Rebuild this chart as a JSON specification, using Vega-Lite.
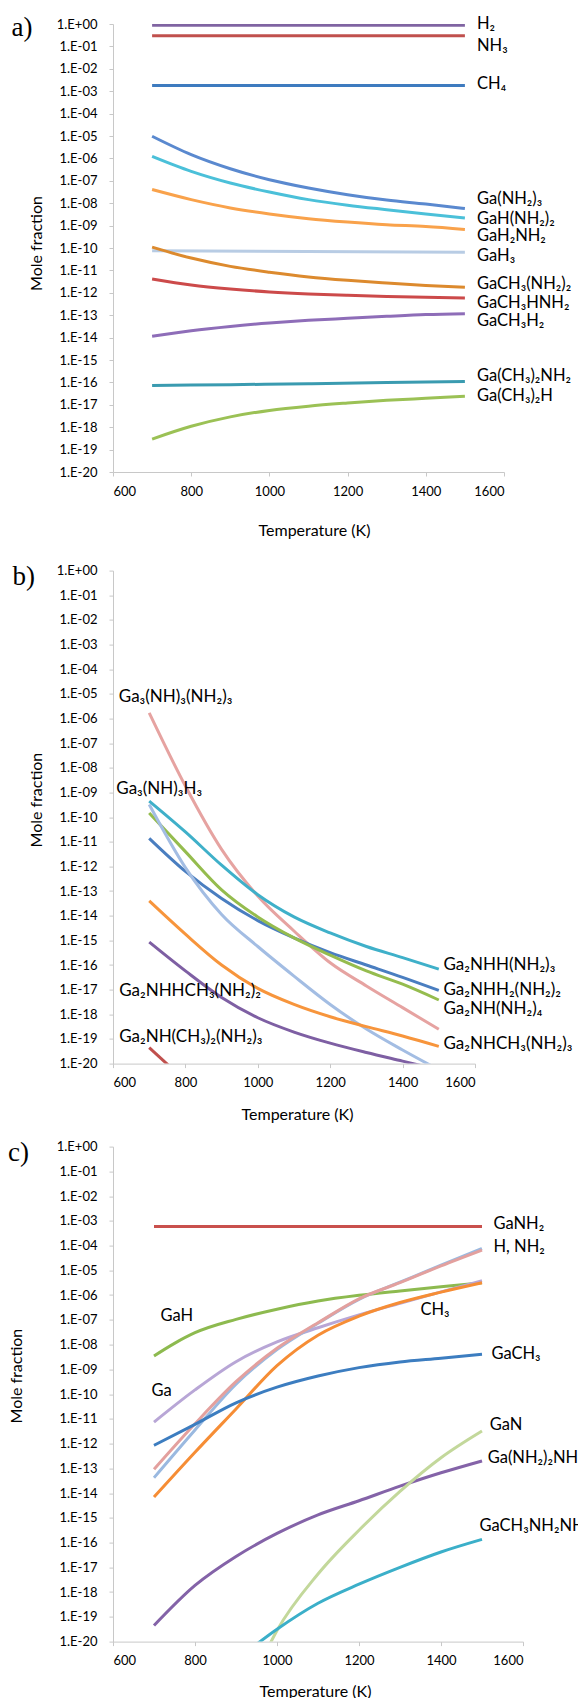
{
"$schema":"https://vega.github.io/schema/vega-lite/v6.json",
"background":"white",
"padding":{"left":8,"top":14,"right":0,"bottom":0},
"config":{"font":"Lato","view":{"stroke":null},
"axis":{"labelFont":"Lato","labelFontSize":13,"labelColor":"#000","titleFont":"Lato","titleFontSize":16,"titleFontWeight":"normal","titleColor":"#000","domainColor":"#C8C8C8","tickColor":"#C8C8C8","grid":false,"tickSize":4},
"title":{"font":"Liberation Serif","fontSize":27,"fontWeight":"normal","anchor":"start","frame":"bounds","color":"#000"},
"text":{"font":"Lato","fontSize":16.5,"align":"left","baseline":"middle","color":"#000"},
"line":{"strokeWidth":3,"interpolate":"monotone"}},
"datasets":{
"a":[
{"s":"H2","T":700,"v":0.871},{"s":"H2","T":1500,"v":0.871},
{"s":"NH3","T":700,"v":0.302},{"s":"NH3","T":1500,"v":0.302},
{"s":"CH4","T":700,"v":1.778e-3},{"s":"CH4","T":1500,"v":1.778e-3},
{"s":"Ga(NH2)3","T":700,"v":9.77e-6},{"s":"Ga(NH2)3","T":800,"v":1.479e-6},{"s":"Ga(NH2)3","T":900,"v":3.467e-7},{"s":"Ga(NH2)3","T":1000,"v":1.122e-7},{"s":"Ga(NH2)3","T":1100,"v":4.786e-8},{"s":"Ga(NH2)3","T":1200,"v":2.399e-8},{"s":"Ga(NH2)3","T":1300,"v":1.380e-8},{"s":"Ga(NH2)3","T":1400,"v":9.12e-9},{"s":"Ga(NH2)3","T":1500,"v":5.754e-9},
{"s":"GaH(NH2)2","T":700,"v":1.230e-6},{"s":"GaH(NH2)2","T":800,"v":2.630e-7},{"s":"GaH(NH2)2","T":900,"v":7.943e-8},{"s":"GaH(NH2)2","T":1000,"v":3.162e-8},{"s":"GaH(NH2)2","T":1100,"v":1.445e-8},{"s":"GaH(NH2)2","T":1200,"v":8.128e-9},{"s":"GaH(NH2)2","T":1300,"v":5.129e-9},{"s":"GaH(NH2)2","T":1400,"v":3.311e-9},{"s":"GaH(NH2)2","T":1500,"v":2.188e-9},
{"s":"GaH2NH2","T":700,"v":4.074e-8},{"s":"GaH2NH2","T":800,"v":1.445e-8},{"s":"GaH2NH2","T":900,"v":6.166e-9},{"s":"GaH2NH2","T":1000,"v":3.311e-9},{"s":"GaH2NH2","T":1100,"v":2.042e-9},{"s":"GaH2NH2","T":1200,"v":1.445e-9},{"s":"GaH2NH2","T":1300,"v":1.096e-9},{"s":"GaH2NH2","T":1400,"v":9.12e-10},{"s":"GaH2NH2","T":1500,"v":6.761e-10},
{"s":"GaH3","T":700,"v":7.586e-11},{"s":"GaH3","T":1500,"v":6.457e-11},
{"s":"GaCH3(NH2)2","T":700,"v":1.096e-10},{"s":"GaCH3(NH2)2","T":800,"v":3.548e-11},{"s":"GaCH3(NH2)2","T":900,"v":1.514e-11},{"s":"GaCH3(NH2)2","T":1000,"v":8.318e-12},{"s":"GaCH3(NH2)2","T":1100,"v":5.129e-12},{"s":"GaCH3(NH2)2","T":1200,"v":3.631e-12},{"s":"GaCH3(NH2)2","T":1300,"v":2.754e-12},{"s":"GaCH3(NH2)2","T":1400,"v":2.138e-12},{"s":"GaCH3(NH2)2","T":1500,"v":1.778e-12},
{"s":"GaCH3HNH2","T":700,"v":4.169e-12},{"s":"GaCH3HNH2","T":800,"v":2.239e-12},{"s":"GaCH3HNH2","T":900,"v":1.479e-12},{"s":"GaCH3HNH2","T":1000,"v":1.096e-12},{"s":"GaCH3HNH2","T":1100,"v":8.913e-13},{"s":"GaCH3HNH2","T":1200,"v":7.762e-13},{"s":"GaCH3HNH2","T":1300,"v":6.918e-13},{"s":"GaCH3HNH2","T":1400,"v":6.310e-13},{"s":"GaCH3HNH2","T":1500,"v":5.888e-13},
{"s":"GaCH3H2","T":700,"v":1.148e-14},{"s":"GaCH3H2","T":800,"v":2.042e-14},{"s":"GaCH3H2","T":900,"v":3.162e-14},{"s":"GaCH3H2","T":1000,"v":4.467e-14},{"s":"GaCH3H2","T":1100,"v":5.888e-14},{"s":"GaCH3H2","T":1200,"v":7.244e-14},{"s":"GaCH3H2","T":1300,"v":8.913e-14},{"s":"GaCH3H2","T":1400,"v":1.072e-13},{"s":"GaCH3H2","T":1500,"v":1.175e-13},
{"s":"Ga(CH3)2NH2","T":700,"v":7.244e-17},{"s":"Ga(CH3)2NH2","T":900,"v":7.943e-17},{"s":"Ga(CH3)2NH2","T":1100,"v":8.710e-17},{"s":"Ga(CH3)2NH2","T":1300,"v":9.772e-17},{"s":"Ga(CH3)2NH2","T":1500,"v":1.096e-16},
{"s":"Ga(CH3)2H","T":700,"v":2.951e-19},{"s":"Ga(CH3)2H","T":800,"v":1.096e-18},{"s":"Ga(CH3)2H","T":900,"v":2.884e-18},{"s":"Ga(CH3)2H","T":1000,"v":5.623e-18},{"s":"Ga(CH3)2H","T":1100,"v":8.710e-18},{"s":"Ga(CH3)2H","T":1200,"v":1.202e-17},{"s":"Ga(CH3)2H","T":1300,"v":1.585e-17},{"s":"Ga(CH3)2H","T":1400,"v":1.950e-17},{"s":"Ga(CH3)2H","T":1500,"v":2.399e-17}
],
"aLab":[
{"t":"H₂","T":1531,"v":1},{"t":"NH₃","T":1531,"v":0.1096},{"t":"CH₄","T":1531,"v":2.089e-3},
{"t":"Ga(NH₂)₃","T":1531,"v":1.549e-8},{"t":"GaH(NH₂)₂","T":1531,"v":2.042e-9},{"t":"GaH₂NH₂","T":1531,"v":3.548e-10},
{"t":"GaH₃","T":1531,"v":4.266e-11},{"t":"GaCH₃(NH₂)₂","T":1531,"v":2.455e-12},{"t":"GaCH₃HNH₂","T":1531,"v":3.467e-13},
{"t":"GaCH₃H₂","T":1531,"v":5.370e-14},{"t":"Ga(CH₃)₂NH₂","T":1531,"v":1.862e-16},{"t":"Ga(CH₃)₂H","T":1531,"v":2.570e-17}
],
"b":[
{"s":"Ga3(NH)3(NH2)3","T":700,"v":1.698e-6},{"s":"Ga3(NH)3(NH2)3","T":800,"v":1.820e-9},{"s":"Ga3(NH)3(NH2)3","T":900,"v":4.898e-12},{"s":"Ga3(NH)3(NH2)3","T":1000,"v":6.310e-14},{"s":"Ga3(NH)3(NH2)3","T":1100,"v":2.399e-15},{"s":"Ga3(NH)3(NH2)3","T":1200,"v":1.230e-16},{"s":"Ga3(NH)3(NH2)3","T":1300,"v":1.413e-17},{"s":"Ga3(NH)3(NH2)3","T":1400,"v":1.862e-18},{"s":"Ga3(NH)3(NH2)3","T":1500,"v":2.455e-19},
{"s":"Ga2NHH(NH2)3","T":700,"v":4.467e-10},{"s":"Ga2NHH(NH2)3","T":800,"v":2.512e-11},{"s":"Ga2NHH(NH2)3","T":900,"v":1.122e-12},{"s":"Ga2NHH(NH2)3","T":1000,"v":7.079e-14},{"s":"Ga2NHH(NH2)3","T":1100,"v":8.913e-15},{"s":"Ga2NHH(NH2)3","T":1200,"v":1.995e-15},{"s":"Ga2NHH(NH2)3","T":1300,"v":5.623e-16},{"s":"Ga2NHH(NH2)3","T":1400,"v":1.995e-16},{"s":"Ga2NHH(NH2)3","T":1500,"v":6.761e-17},
{"s":"Ga2NHH2(NH2)2","T":700,"v":1.380e-11},{"s":"Ga2NHH2(NH2)2","T":800,"v":6.310e-13},{"s":"Ga2NHH2(NH2)2","T":900,"v":5.012e-14},{"s":"Ga2NHH2(NH2)2","T":1000,"v":6.310e-15},{"s":"Ga2NHH2(NH2)2","T":1100,"v":1.259e-15},{"s":"Ga2NHH2(NH2)2","T":1200,"v":3.162e-16},{"s":"Ga2NHH2(NH2)2","T":1300,"v":1.0e-16},{"s":"Ga2NHH2(NH2)2","T":1400,"v":3.162e-17},{"s":"Ga2NHH2(NH2)2","T":1500,"v":9.333e-18},
{"s":"Ga2NH(NH2)4","T":700,"v":1.479e-10},{"s":"Ga2NH(NH2)4","T":800,"v":3.981e-12},{"s":"Ga2NH(NH2)4","T":900,"v":1.122e-13},{"s":"Ga2NH(NH2)4","T":1000,"v":8.913e-15},{"s":"Ga2NH(NH2)4","T":1100,"v":1.259e-15},{"s":"Ga2NH(NH2)4","T":1200,"v":2.512e-16},{"s":"Ga2NH(NH2)4","T":1300,"v":5.754e-17},{"s":"Ga2NH(NH2)4","T":1400,"v":1.660e-17},{"s":"Ga2NH(NH2)4","T":1500,"v":3.802e-18},
{"s":"Ga3(NH)3H3","T":700,"v":3.236e-10},{"s":"Ga3(NH)3H3","T":800,"v":8.913e-13},{"s":"Ga3(NH)3H3","T":900,"v":1.122e-14},{"s":"Ga3(NH)3H3","T":1000,"v":5.623e-16},{"s":"Ga3(NH)3H3","T":1100,"v":3.548e-17},{"s":"Ga3(NH)3H3","T":1200,"v":2.512e-18},{"s":"Ga3(NH)3H3","T":1300,"v":2.512e-19},{"s":"Ga3(NH)3H3","T":1400,"v":3.548e-20},{"s":"Ga3(NH)3H3","T":1500,"v":5.623e-21},
{"s":"Ga2NHCH3(NH2)3","T":700,"v":3.981e-14},{"s":"Ga2NHCH3(NH2)3","T":800,"v":1.778e-15},{"s":"Ga2NHCH3(NH2)3","T":900,"v":1.0e-16},{"s":"Ga2NHCH3(NH2)3","T":1000,"v":1.122e-17},{"s":"Ga2NHCH3(NH2)3","T":1100,"v":2.512e-18},{"s":"Ga2NHCH3(NH2)3","T":1200,"v":7.943e-19},{"s":"Ga2NHCH3(NH2)3","T":1300,"v":3.162e-19},{"s":"Ga2NHCH3(NH2)3","T":1400,"v":1.318e-19},{"s":"Ga2NHCH3(NH2)3","T":1500,"v":5.012e-20},
{"s":"Ga2NHHCH3(NH2)2","T":700,"v":8.511e-16},{"s":"Ga2NHHCH3(NH2)2","T":800,"v":5.754e-17},{"s":"Ga2NHHCH3(NH2)2","T":900,"v":4.786e-18},{"s":"Ga2NHHCH3(NH2)2","T":1000,"v":7.244e-19},{"s":"Ga2NHHCH3(NH2)2","T":1100,"v":1.905e-19},{"s":"Ga2NHHCH3(NH2)2","T":1200,"v":6.761e-20},{"s":"Ga2NHHCH3(NH2)2","T":1300,"v":2.818e-20},{"s":"Ga2NHHCH3(NH2)2","T":1400,"v":1.259e-20},{"s":"Ga2NHHCH3(NH2)2","T":1500,"v":5.623e-21},
{"s":"Ga2NH(CH3)2(NH2)3","T":700,"v":4.467e-20},{"s":"Ga2NH(CH3)2(NH2)3","T":800,"v":1.995e-21}
],
"bLab":[
{"t":"Ga₃(NH)₃(NH₂)₃","T":616,"v":7.244e-6},{"t":"Ga₃(NH)₃H₃","T":609,"v":1.318e-9},
{"t":"Ga₂NHHCH₃(NH₂)₂","T":617,"v":8.913e-18},{"t":"Ga₂NH(CH₃)₂(NH₂)₃","T":617,"v":1.202e-19},
{"t":"Ga₂NHH(NH₂)₃","T":1513,"v":9.772e-17},{"t":"Ga₂NHH₂(NH₂)₂","T":1513,"v":9.550e-18},
{"t":"Ga₂NH(NH₂)₄","T":1513,"v":1.622e-18},{"t":"Ga₂NHCH₃(NH₂)₃","T":1513,"v":6.457e-20}
],
"c":[
{"s":"GaNH2","T":700,"v":5.888e-4},{"s":"GaNH2","T":1500,"v":5.888e-4},
{"s":"GaH","T":700,"v":3.467e-9},{"s":"GaH","T":750,"v":1.122e-8},{"s":"GaH","T":800,"v":3.020e-8},{"s":"GaH","T":900,"v":1.047e-7},{"s":"GaH","T":1000,"v":2.692e-7},{"s":"GaH","T":1100,"v":5.754e-7},{"s":"GaH","T":1200,"v":9.772e-7},{"s":"GaH","T":1300,"v":1.479e-6},{"s":"GaH","T":1400,"v":2.188e-6},{"s":"GaH","T":1500,"v":3.162e-6},
{"s":"Ga","T":700,"v":7.413e-12},{"s":"Ga","T":800,"v":1.479e-10},{"s":"Ga","T":900,"v":2.042e-9},{"s":"Ga","T":1000,"v":1.288e-8},{"s":"Ga","T":1100,"v":4.786e-8},{"s":"Ga","T":1200,"v":1.585e-7},{"s":"Ga","T":1300,"v":4.677e-7},{"s":"Ga","T":1400,"v":1.349e-6},{"s":"Ga","T":1500,"v":3.802e-6},
{"s":"H","T":700,"v":4.169e-14},{"s":"H","T":800,"v":3.548e-12},{"s":"H","T":900,"v":2.512e-10},{"s":"H","T":1000,"v":6.310e-9},{"s":"H","T":1100,"v":7.244e-8},{"s":"H","T":1200,"v":6.761e-7},{"s":"H","T":1300,"v":3.311e-6},{"s":"H","T":1400,"v":1.622e-5},{"s":"H","T":1500,"v":7.586e-5},
{"s":"NH2","T":700,"v":9.12e-14},{"s":"NH2","T":800,"v":6.310e-12},{"s":"NH2","T":900,"v":3.162e-10},{"s":"NH2","T":1000,"v":7.079e-9},{"s":"NH2","T":1100,"v":7.586e-8},{"s":"NH2","T":1200,"v":7.079e-7},{"s":"NH2","T":1300,"v":3.162e-6},{"s":"NH2","T":1400,"v":1.514e-5},{"s":"NH2","T":1500,"v":6.607e-5},
{"s":"CH3","T":700,"v":6.918e-15},{"s":"CH3","T":800,"v":4.467e-13},{"s":"CH3","T":900,"v":2.512e-11},{"s":"CH3","T":1000,"v":1.413e-9},{"s":"CH3","T":1100,"v":2.399e-8},{"s":"CH3","T":1200,"v":1.413e-7},{"s":"CH3","T":1300,"v":5.012e-7},{"s":"CH3","T":1400,"v":1.318e-6},{"s":"CH3","T":1500,"v":3.162e-6},
{"s":"GaCH3","T":700,"v":8.511e-13},{"s":"GaCH3","T":800,"v":6.026e-12},{"s":"GaCH3","T":900,"v":4.467e-11},{"s":"GaCH3","T":1000,"v":1.905e-10},{"s":"GaCH3","T":1100,"v":5.370e-10},{"s":"GaCH3","T":1200,"v":1.175e-9},{"s":"GaCH3","T":1300,"v":1.995e-9},{"s":"GaCH3","T":1400,"v":2.818e-9},{"s":"GaCH3","T":1500,"v":4.074e-9},
{"s":"Ga(NH2)2NH","T":700,"v":4.467e-20},{"s":"Ga(NH2)2NH","T":800,"v":1.862e-18},{"s":"Ga(NH2)2NH","T":900,"v":2.754e-17},{"s":"Ga(NH2)2NH","T":1000,"v":2.344e-16},{"s":"Ga(NH2)2NH","T":1100,"v":1.318e-15},{"s":"Ga(NH2)2NH","T":1200,"v":4.898e-15},{"s":"Ga(NH2)2NH","T":1300,"v":1.905e-14},{"s":"Ga(NH2)2NH","T":1400,"v":6.607e-14},{"s":"Ga(NH2)2NH","T":1500,"v":1.995e-13},
{"s":"GaN","T":950,"v":6.310e-22},{"s":"GaN","T":1000,"v":2.818e-20},{"s":"GaN","T":1100,"v":5.370e-18},{"s":"GaN","T":1200,"v":3.162e-16},{"s":"GaN","T":1300,"v":1.175e-14},{"s":"GaN","T":1400,"v":2.692e-13},{"s":"GaN","T":1500,"v":3.236e-12},
{"s":"GaCH3NH2NH","T":900,"v":1.778e-21},{"s":"GaCH3NH2NH","T":1000,"v":3.162e-20},{"s":"GaCH3NH2NH","T":1100,"v":3.548e-19},{"s":"GaCH3NH2NH","T":1200,"v":2.089e-18},{"s":"GaCH3NH2NH","T":1300,"v":1.0e-17},{"s":"GaCH3NH2NH","T":1400,"v":4.169e-17},{"s":"GaCH3NH2NH","T":1500,"v":1.349e-16}
],
"cLab":[
{"t":"GaNH₂","T":1528,"v":7.762e-4},{"t":"H, NH₂","T":1528,"v":9.120e-5},{"t":"CH₃","T":1350,"v":2.455e-7},
{"t":"GaH","T":716,"v":1.380e-7},{"t":"GaCH₃","T":1523,"v":4.074e-9},{"t":"Ga","T":694,"v":1.349e-10},
{"t":"GaN","T":1519,"v":5.623e-12},{"t":"Ga(NH₂)₂NH","T":1514,"v":2.692e-13},{"t":"GaCH₃NH₂NH","T":1494,"v":4.898e-16}
]
},
"bounds":"flush",
"spacing":98.6,
"resolve":{"scale":{"color":"independent","x":"independent","y":"independent"}},
"vconcat":[
{"width":391,"height":448,
"title":{"text":"a)","dx":-17,"dy":30},
"encoding":{
"x":{"field":"T","type":"quantitative","scale":{"domain":[600,1600],"nice":false},"axis":{"values":[600,800,1000,1200,1400,1600],"format":"d","title":"Temperature (K)","labelPadding":9,"titleX":201,"titleY":58,"titleBaseline":"middle","titleAnchor":"middle"}},
"y":{"field":"v","type":"quantitative","scale":{"type":"log","domain":[1e-20,1],"nice":false},"axis":{"values":[1,0.1,0.01,0.001,0.0001,1e-5,1e-6,1e-7,1e-8,1e-9,1e-10,1e-11,1e-12,1e-13,1e-14,1e-15,1e-16,1e-17,1e-18,1e-19,1e-20],"labelExpr":"'1.E' + (datum.value >= 0.5 ? '+00' : '-' + (round(-log(datum.value)/LN10) < 10 ? '0' : '') + round(-log(datum.value)/LN10))","title":"Mole fraction","labelPadding":12,"titleX":-76.5,"titleY":219,"titleBaseline":"middle","titleAnchor":"middle"}}},
"layer":[
{"data":{"name":"a"},"mark":{"type":"line","clip":true},
"encoding":{"color":{"field":"s","type":"nominal","legend":null,"scale":{"domain":["H2","NH3","CH4","Ga(NH2)3","GaH(NH2)2","GaH2NH2","GaH3","GaCH3(NH2)2","GaCH3HNH2","GaCH3H2","Ga(CH3)2NH2","Ga(CH3)2H"],"range":["#8064A2","#C0504D","#3E7BBF","#5A89CF","#4BC0D9","#F9A24B","#B8CCE4","#DC8A2E","#CC4A4A","#8E6DB8","#3A9BB0","#9BC155"]}}}},
{"data":{"name":"aLab"},"mark":{"type":"text","fontSize":16.5},"encoding":{"text":{"field":"t"}}}
]},
{"bounds":"flush","spacing":83,
"resolve":{"scale":{"color":"independent","x":"independent","y":"independent"}},
"vconcat":[
{"width":362,"height":493,
"title":{"text":"b)","dx":-16,"dy":30},
"encoding":{
"x":{"field":"T","type":"quantitative","scale":{"domain":[600,1600],"nice":false},"axis":{"values":[600,800,1000,1200,1400,1600],"format":"d","title":"Temperature (K)","labelPadding":9,"titleX":184,"titleY":51,"titleBaseline":"middle","titleAnchor":"middle"}},
"y":{"field":"v","type":"quantitative","scale":{"type":"log","domain":[1e-20,1],"nice":false},"axis":{"values":[1,0.1,0.01,0.001,0.0001,1e-5,1e-6,1e-7,1e-8,1e-9,1e-10,1e-11,1e-12,1e-13,1e-14,1e-15,1e-16,1e-17,1e-18,1e-19,1e-20],"labelExpr":"'1.E' + (datum.value >= 0.5 ? '+00' : '-' + (round(-log(datum.value)/LN10) < 10 ? '0' : '') + round(-log(datum.value)/LN10))","title":"Mole fraction","labelPadding":12,"titleX":-76.5,"titleY":229,"titleBaseline":"middle","titleAnchor":"middle"}}},
"layer":[
{"data":{"name":"b"},"mark":{"type":"line","clip":true},
"encoding":{"color":{"field":"s","type":"nominal","legend":null,"scale":{"domain":["Ga3(NH)3(NH2)3","Ga2NHH(NH2)3","Ga2NHH2(NH2)2","Ga2NH(NH2)4","Ga3(NH)3H3","Ga2NHCH3(NH2)3","Ga2NHHCH3(NH2)2","Ga2NH(CH3)2(NH2)3"],"range":["#E6A3A1","#3FB0C9","#4A7EC0","#95BC4E","#A3BDE3","#F7953C","#7E5FA3","#C0504D"]}}}},
{"data":{"name":"bLab"},"mark":{"type":"text","fontSize":17},"encoding":{"text":{"field":"t"}}}
]},
{"width":410,"height":495,
"title":{"text":"c)","dx":0,"dy":30},
"encoding":{
"x":{"field":"T","type":"quantitative","scale":{"domain":[600,1600],"nice":false},"axis":{"values":[600,800,1000,1200,1400,1600],"format":"d","title":"Temperature (K)","labelPadding":9,"titleX":202,"titleY":50,"titleBaseline":"middle","titleAnchor":"middle"}},
"y":{"field":"v","type":"quantitative","scale":{"type":"log","domain":[1e-20,1],"nice":false},"axis":{"values":[1,0.1,0.01,0.001,0.0001,1e-5,1e-6,1e-7,1e-8,1e-9,1e-10,1e-11,1e-12,1e-13,1e-14,1e-15,1e-16,1e-17,1e-18,1e-19,1e-20],"labelExpr":"'1.E' + (datum.value >= 0.5 ? '+00' : '-' + (round(-log(datum.value)/LN10) < 10 ? '0' : '') + round(-log(datum.value)/LN10))","title":"Mole fraction","labelPadding":12,"titleX":-97,"titleY":229,"titleBaseline":"middle","titleAnchor":"middle"}}},
"layer":[
{"data":{"name":"c"},"mark":{"type":"line","clip":true},
"encoding":{"color":{"field":"s","type":"nominal","legend":null,"scale":{"domain":["GaNH2","GaH","Ga","H","NH2","CH3","GaCH3","Ga(NH2)2NH","GaN","GaCH3NH2NH"],"range":["#C9504D","#8DBA4F","#B8A6D6","#9AB9E0","#E3A09E","#F68D35","#3C7DC0","#8463A8","#C3D89B","#3BAFC9"]}}}},
{"data":{"name":"cLab"},"mark":{"type":"text","fontSize":16.5},"encoding":{"text":{"field":"t"}}}
]}
]}
]
}
